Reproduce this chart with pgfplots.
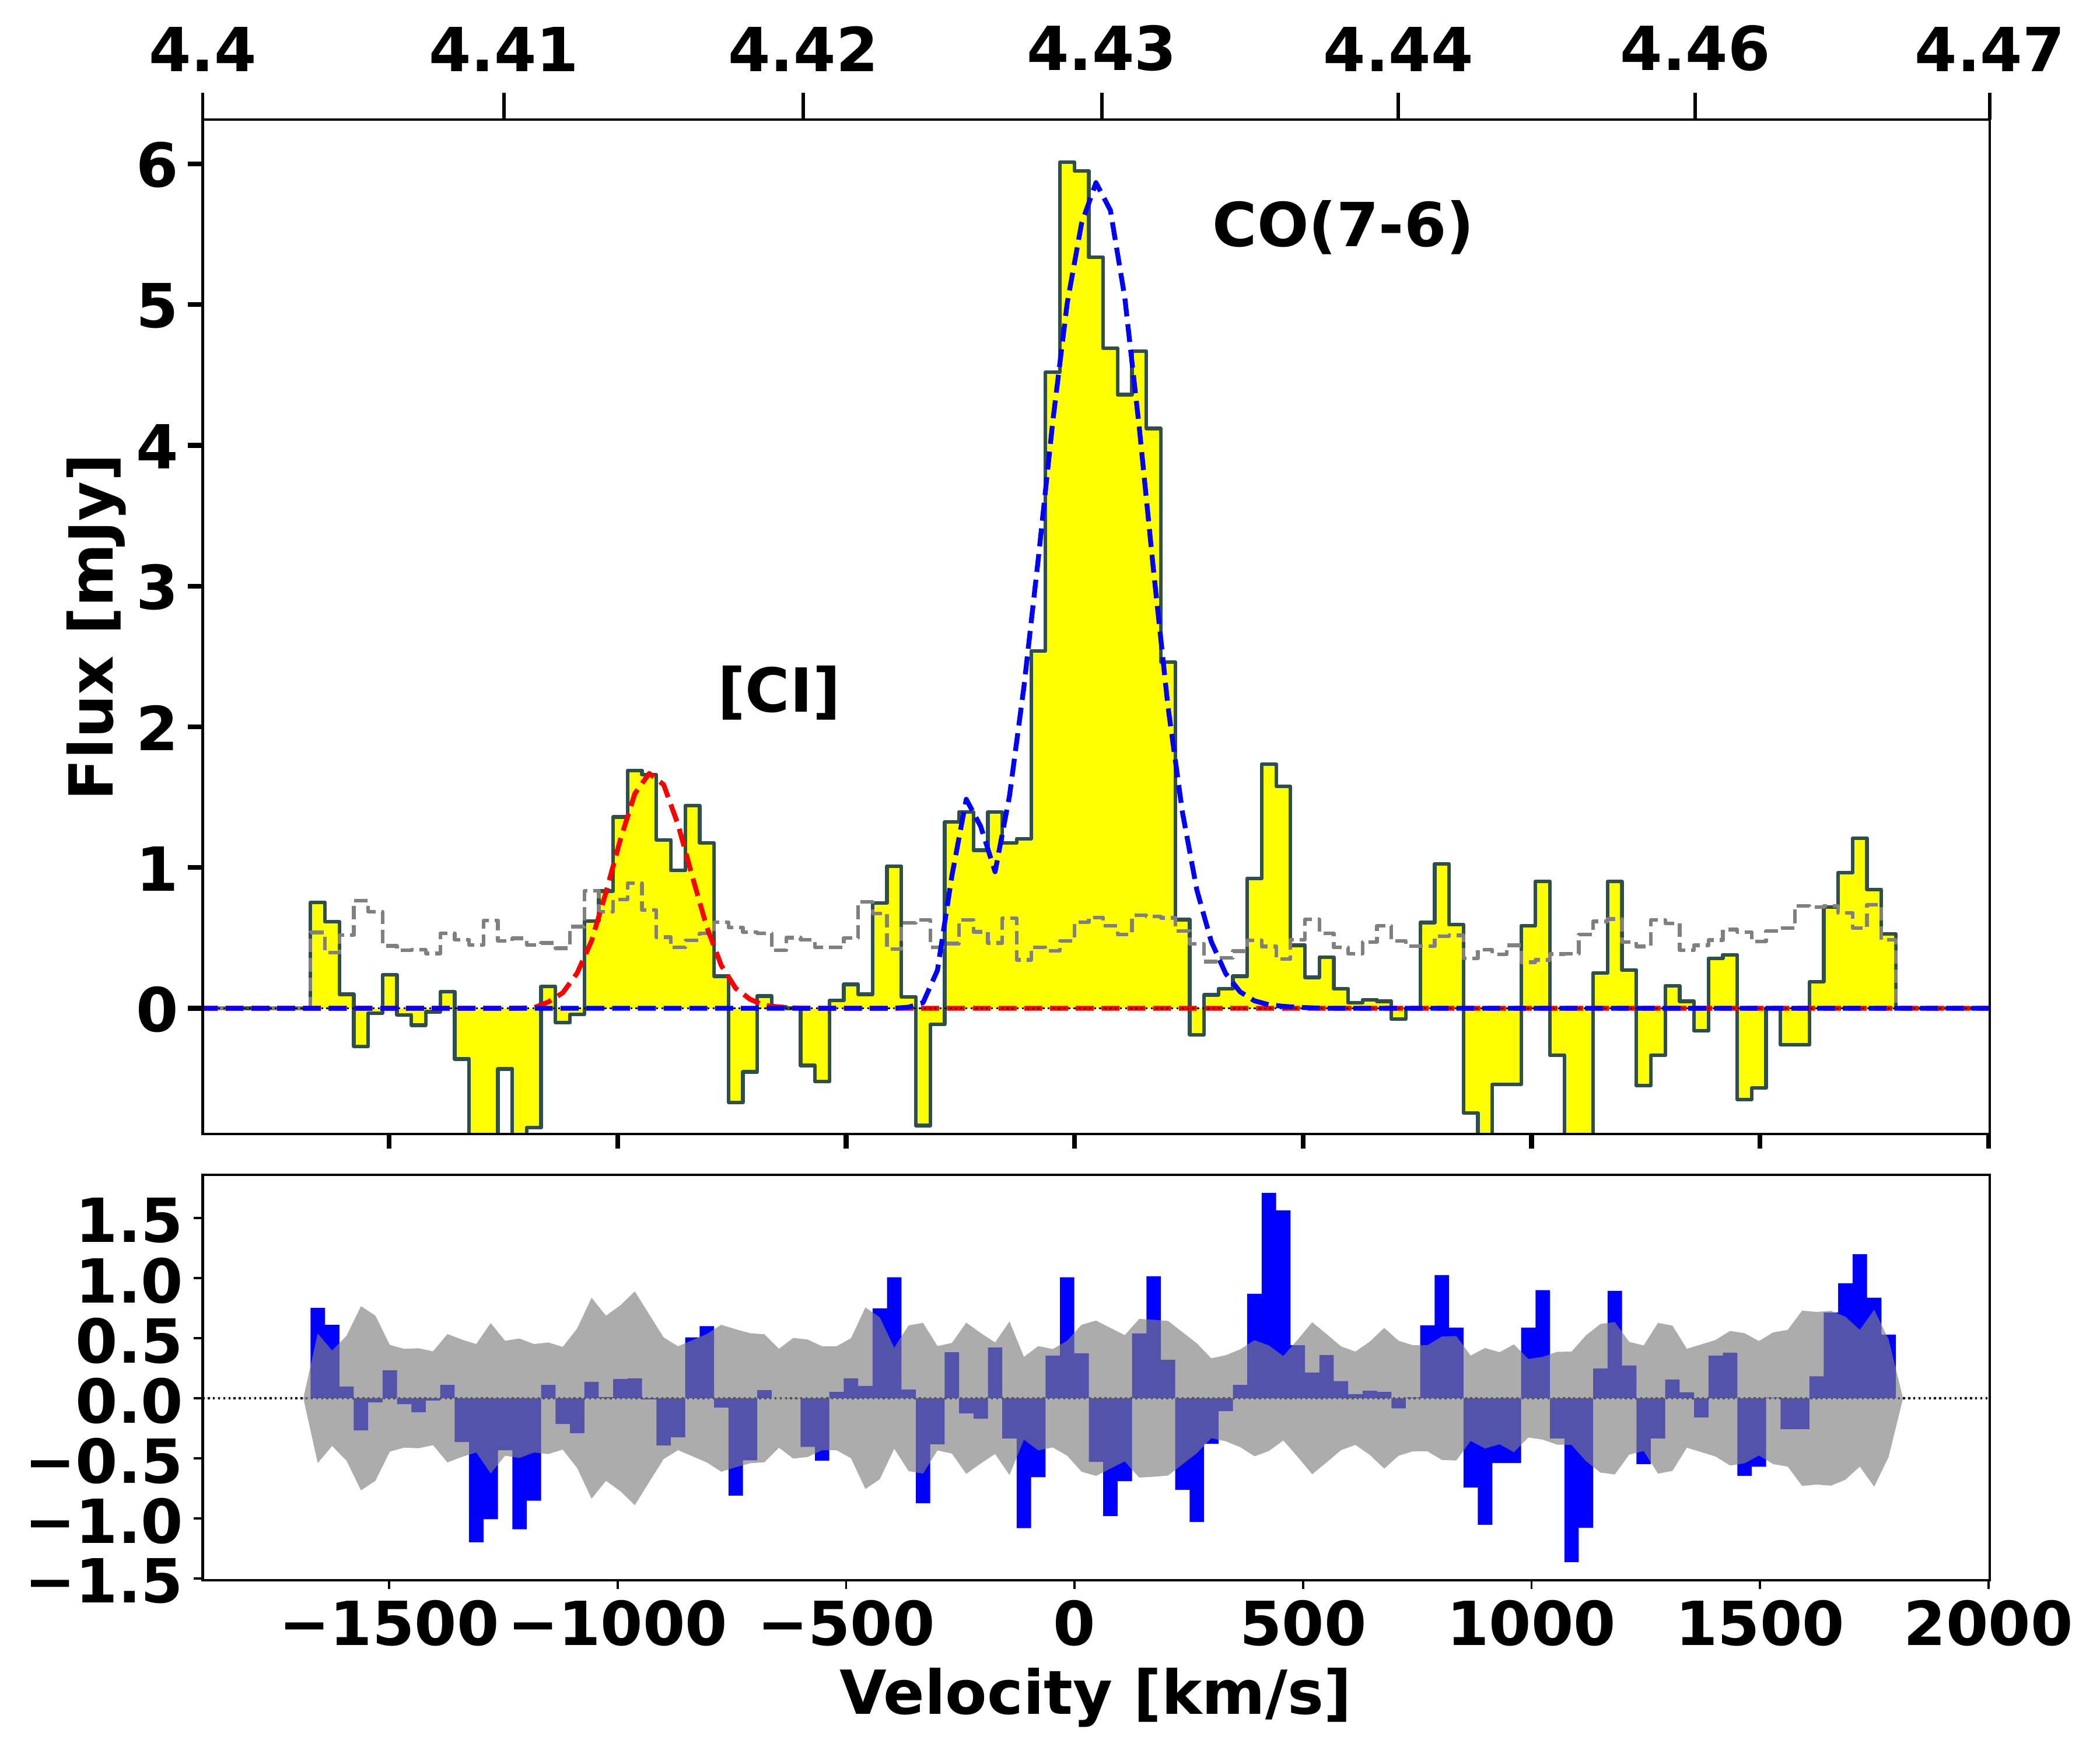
\documentclass[border=0pt]{standalone}
\usepackage{fontspec}
\setmainfont{DejaVu Sans}
\usepackage{pgfplots}
\usepackage{pgfplotstable}
\pgfplotsset{compat=1.18}

\definecolor{stepline}{HTML}{2F4F4F}
\definecolor{specfill}{RGB}{255,255,0}
\definecolor{fitblue}{RGB}{0,0,255}
\definecolor{fitred}{RGB}{255,0,0}
\definecolor{midgray}{RGB}{128,128,128}
\newcommand{\bigfont}{\fontsize{25bp}{30bp}\selectfont\bfseries}

% v = left edge of channel [km/s], flux and residual [mJy], sig = noise, ci and co = fitted lines
\pgfplotstableread{
v flux res sig ci co
-1930 0 0 0 0 0
-1703.5 0 0 0 0 0
-1672.0 .753 .752 .539 0 0
-1640.5 .615 .611 .397 0 0
-1608.9 .10 .098 .52 0 0
-1577.4 -.27 -.267 .766 0 0
-1545.8 -.034 -.035 .687 0 0
-1514.3 .237 .232 .444 0 0
-1482.8 -.047 -.049 .411 0 0
-1451.2 -.12 -.116 .416 0 0
-1419.7 -.025 -.019 .39 0 0
-1388.1 .118 .111 .534 0 0
-1356.6 -.36 -.365 .488 0 0
-1325.1 -1.198 -1.198 .451 0 0
-1293.5 -1.006 -1.006 .625 0 0
-1262.0 -.431 -.432 .478 0 0
-1230.4 -1.09 -1.09 .497 .001 0
-1198.9 -.848 -.852 .451 .004 0
-1167.4 .156 .111 .464 .045 0
-1135.8 -.10 -.214 .427 .11 0
-1104.3 -.044 -.29 .58 .25 0
-1072.7 .62 .137 .836 .48 0
-1041.2 .833 .009 .687 .824 0
-1009.7 1.36 .16 .773 1.2 0
-978.1 1.69 .165 .889 1.525 0
-946.6 1.66 -.009 .697 1.669 0
-915.0 1.197 -.392 .506 1.589 0
-883.5 .98 -.325 .432 1.305 0
-852.0 1.44 .506 .483 .934 0
-820.4 1.175 .60 .534 .575 0
-788.9 .228 -.077 .611 .305 0
-757.3 -.668 -.81 .574 .142 0
-725.8 -.452 -.516 .541 .064 0
-694.3 .087 .067 .532 .02 0
-662.7 .01 0 .411 .01 0
-631.2 0 -.002 .502 .003 0
-599.6 -.406 -.404 .488 0 0
-568.1 -.52 -.52 .432 0 0
-536.6 .055 .053 .432 0 0
-505.0 .17 .165 .499 0 0
-473.5 .10 .102 .755 0 0
-441.9 .748 .748 .673 0 0
-410.4 1.01 1.006 .42 0 0
-378.9 .08 .072 .606 0 .008
-347.3 -.833 -.873 .627 0 .04
-315.8 -.114 -.383 .434 0 .27
-284.2 1.323 .383 .46 0 .94
-252.7 1.395 -.125 .629 0 1.485
-221.2 1.123 -.17 .543 0 1.293
-189.6 1.395 .423 .464 0 .97
-158.1 1.175 -.334 .639 0 1.509
-126.5 1.205 -1.08 .344 0 2.285
-95.0 2.54 -.657 .434 0 3.197
-63.5 4.52 .355 .409 0 4.165
-31.9 6.013 1.006 .478 0 5.007
-0.4 5.95 .374 .611 0 5.576
31.2 5.336 -.53 .646 0 5.866
62.7 4.69 -.98 .585 0 5.67
94.2 4.36 -.69 .525 0 5.05
125.8 4.67 .539 .66 0 4.13
157.3 4.12 1.015 .653 0 3.105
188.9 2.46 .32 .643 0 2.14
220.4 .63 -.762 .55 0 1.392
251.9 -.188 -1.029 .457 0 .841
283.5 .095 -.379 .332 0 .474
315.0 .14 -.107 .358 0 .247
346.6 .228 .111 .406 0 .117
378.1 .922 .869 .483 0 .053
409.6 1.734 1.709 .439 0 .025
441.2 1.577 1.563 .351 0 .014
472.7 .448 .441 .488 0 .007
504.3 .22 .214 .632 0 .003
535.8 .364 .36 .534 0 0
567.3 .14 .142 .432 0 0
598.9 .038 .035 .388 0 0
630.4 .059 .063 .471 0 0
662.0 .05 .053 .585 0 0
693.5 -.076 -.084 .478 0 0
725.0 0 .005 .441 0 0
756.6 .609 .606 .441 0 0
788.1 1.027 1.024 .513 0 0
819.7 .594 .588 .518 0 0
851.2 -.744 -.743 .355 0 0
882.7 -1.052 -1.052 .418 0 0
914.3 -.541 -.539 .383 0 0
945.8 -.541 -.539 .448 0 0
977.4 .588 .588 .327 0 0
1008.9 .90 .899 .344 0 0
1040.4 -.334 -.334 .386 0 0
1072.0 -1.363 -1.363 .388 0 0
1103.5 -1.078 -1.078 .523 0 0
1135.1 .252 .248 .618 0 0
1166.6 .90 .894 .634 0 0
1198.1 .273 .272 .469 0 0
1229.7 -.548 -.548 .439 0 0
1261.2 -.334 -.334 .627 0 0
1292.8 .161 .156 .604 0 0
1324.3 .05 .049 .411 0 0
1355.8 -.161 -.16 .448 0 0
1387.4 .355 .355 .485 0 0
1418.9 .38 .379 .56 0 0
1450.5 -.647 -.646 .541 0 0
1482.0 -.567 -.569 .476 0 0
1513.5 0 .005 .548 0 0
1545.1 -.258 -.258 .569 0 0
1576.6 -.258 -.258 .729 0 0
1608.2 .188 .183 .718 0 0
1639.7 .72 .713 .727 0 0
1671.2 .964 .957 .678 0 0
1702.8 1.207 1.198 .569 0 0
1734.3 .843 .836 .736 0 0
1765.9 .53 .529 .488 0 0
1797.4 0 0 0 0 0
2020 0 0 0 0 0
}\spec

\pgfplotsset{
    panel/.style={
        scale only axis, anchor=south west, width=738pt,
        xmin=-1908, xmax=2003,
        axis on top, clip=true,
        axis line style={line width=1bp},
        tick align=outside,
        xtick pos=bottom, ytick pos=left,
        tick label style={font=\bigfont, inner sep=0pt},
        label style={font=\bigfont, inner sep=0pt},
        scaled ticks=false,
    },
    xlabels/.style={
        xtick={-1500,-1000,-500,0,500,1000,1500,2000},
    },
}

\begin{document}
\begin{tikzpicture}
\useasboundingbox (0,0) rectangle (867.24pt,722.7pt);

% spectrum with both line fits
\begin{axis}[panel, xlabels,
    at={(83.71pt,254.39pt)}, height=418.9pt,
    ymin=-0.893, ymax=6.314,
    xticklabels={},
    ytick={0,1,2,3,4,5,6},
    yticklabels={0,1,2,3,4,5,6},
    major tick length=6bp,
    tick style={line width=2bp, black},
    yticklabel style={xshift=-3.8bp, yshift=-0.5bp},
    ylabel={Flux [mJy]},
    ylabel style={at={(axis description cs:-0.0594,0.4997)}, anchor=center},
]
\addplot[const plot, fill=specfill, draw=none] table[x=v,y=flux] {\spec} \closedcycle;
\addplot[const plot, stepline, line width=1.5bp, line join=round] table[x=v,y=flux] {\spec};
\addplot[const plot, midgray, line width=1.5bp, line join=round, dash pattern=on 5.55bp off 2.4bp]
    table[x=v,y=sig] {\spec};
\addplot[fitred, line width=2bp, line join=round, dash pattern=on 7.4bp off 3.2bp]
    table[x expr=\thisrow{v}+15.77,y=ci] {\spec};
\addplot[black, line width=0.8bp, dash pattern=on 0.8bp off 1.32bp]
    coordinates {(-1908,0) (2003,0)};
\addplot[fitblue, line width=2bp, line join=round, dash pattern=on 7.4bp off 3.2bp]
    table[x expr=\thisrow{v}+15.77,y=co] {\spec};
\node[font=\bigfont, anchor=west, inner sep=0pt] at (axis cs:301,5.55) {CO(7-6)};
\node[font=\bigfont, anchor=west, inner sep=0pt] at (axis cs:-782,2.24) {[CI]};
\end{axis}

% redshift scale along the top
\begin{axis}[panel,
    at={(83.71pt,254.39pt)}, height=418.9pt,
    ymin=-0.893, ymax=6.314,
    axis y line=none, axis x line*=top,
    xtick pos=top,
    xtick={-1908,-1249.1,-593.8,59.5,708.9,1358.3,2003},
    xticklabels={4.4,4.41,4.42,4.43,4.44,4.46,4.47},
    major tick length=11bp,
    tick style={line width=1.4bp, black},
    xticklabel style={yshift=8.7bp},
]
\end{axis}

% residuals
\begin{axis}[panel, xlabels,
    at={(83.71pt,70.1pt)}, height=167.4pt,
    ymin=-1.514, ymax=1.858,
    xticklabels={\textminus1500,\textminus1000,\textminus500,0,500,1000,1500,2000},
    ytick={-1.5,-1,-0.5,0,0.5,1,1.5},
    yticklabels={\textminus1.5,\textminus1.0,\textminus0.5,0.0,0.5,1.0,1.5},
    major tick length=3.6bp,
    tick style={line width=0.9bp, black},
    xticklabel style={yshift=-4.3bp},
    yticklabel style={xshift=-4.2bp, yshift=-1bp},
    xlabel={Velocity [km/s]},
    xlabel style={at={(axis description cs:0.4996,-0.29)}, anchor=center},
]
\addplot[const plot, fill=fitblue, draw=none] table[x=v,y=res] {\spec} \closedcycle;
\addplot[black, line width=0.8bp, dash pattern=on 0.8bp off 1.32bp]
    coordinates {(-1908,0) (2003,0)};
\addplot[draw=none, fill=midgray, fill opacity=0.65]
    table[x expr=\thisrow{v}+15.77,y=sig] {\spec} \closedcycle;
\addplot[draw=none, fill=midgray, fill opacity=0.65]
    table[x expr=\thisrow{v}+15.77,y expr=-\thisrow{sig}] {\spec} \closedcycle;
\end{axis}
\end{tikzpicture}
\end{document}
